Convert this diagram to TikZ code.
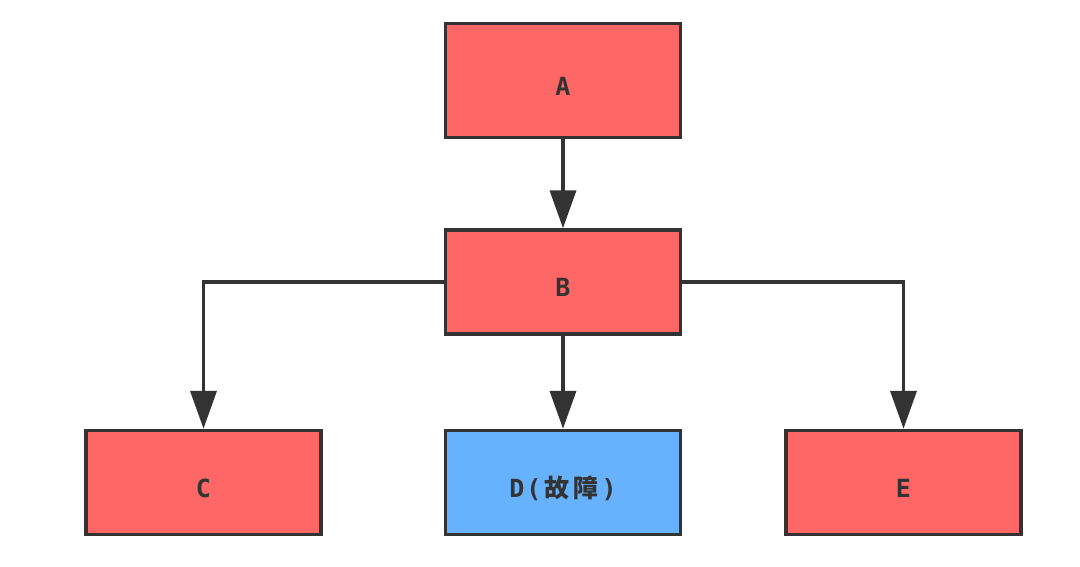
\documentclass[tikz,border=0pt]{standalone}
\usepackage{fontspec}
\setmainfont{DejaVu Sans Mono}
\newfontfamily\cjk{Noto Sans CJK SC}
\usetikzlibrary{arrows.meta}
\definecolor{boxred}{HTML}{FF6666}
\definecolor{boxblue}{HTML}{66B2FF}
\definecolor{edge}{HTML}{333333}
\tikzset{
  box/.style={draw=edge, line width=3.5pt, minimum width=235pt, minimum height=104pt, inner sep=0pt, text height=29pt, text depth=0pt, font=\bfseries\fontsize{25}{28}\selectfont, text=edge},
  conn/.style={draw=edge, line width=3.8pt, -{Triangle[width=26pt,length=38pt]}}
}
\begin{document}
\begin{tikzpicture}[x=1pt,y=-1pt]
\useasboundingbox (0,0) rectangle (1080,566);
\node[box, fill=boxred, minimum height=114pt] (A) at (563,80.5) {A};
\node[box, fill=boxred] (B) at (563,282) {B};
\node[box, fill=boxred] (C) at (203.5,482.5) {C};
\node[box, fill=boxblue] (D) at (563,482.5) {D\kern2pt(\kern3pt{\cjk\bfseries 故\kern4pt障}\kern3pt)};
\node[box, fill=boxred] (E) at (903.5,482.5) {E};
\draw[conn] (A) -- (B);
\draw[conn] (B) -- (D);
\draw[conn] (B.west) -| (C);
\draw[conn] (B.east) -| (E);
\end{tikzpicture}
\end{document}
